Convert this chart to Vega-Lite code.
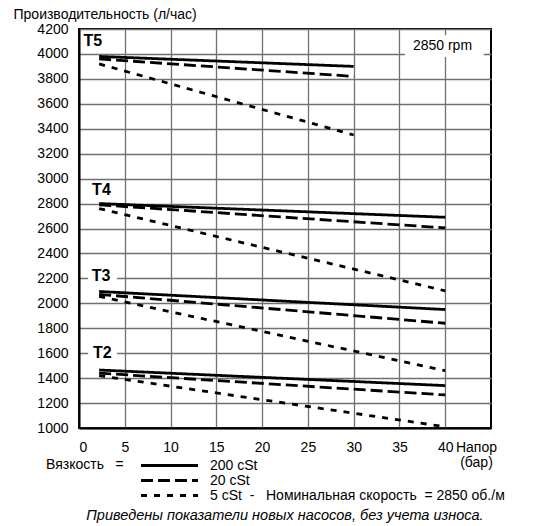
{
  "$schema": "https://vega.github.io/schema/vega-lite/v6.json",
  "width": 412,
  "height": 399,
  "autosize": {"type": "none"},
  "padding": {"left": 79, "top": 29, "right": 44, "bottom": 98},
  "background": "white",
  "config": {
    "font": "Liberation Sans",
    "view": {"stroke": "black", "strokeWidth": 2}
  },
  "title": {
    "text": "Приведены показатели новых насосов, без учета износа.",
    "orient": "bottom",
    "anchor": "middle",
    "fontStyle": "italic",
    "fontWeight": "normal",
    "fontSize": 14.5,
    "color": "black",
    "offset": 6
  },
  "encoding": {
    "x": {
      "field": "x",
      "type": "quantitative",
      "scale": {"domain": [0, 45], "nice": false, "zero": false},
      "axis": {
        "values": [0, 5, 10, 15, 20, 25, 30, 35, 40],
        "title": ["Напор", "(бар)"],
        "titleAngle": 0,
        "titleAlign": "center",
        "titleBaseline": "top",
        "titleX": 397,
        "titleY": 12,
        "titleLineHeight": 15,
        "titleFontWeight": "normal",
        "titleFontSize": 14,
        "titleColor": "black",
        "labelFontSize": 14,
        "labelColor": "black",
        "labelPadding": 12,
        "ticks": false,
        "domainColor": "black",
        "domainWidth": 2,
        "gridColor": "#707070",
        "gridWidth": 1.3
      }
    },
    "y": {
      "field": "y",
      "type": "quantitative",
      "scale": {"domain": [1000, 4200], "nice": false, "zero": false},
      "axis": {
        "values": [1000, 1200, 1400, 1600, 1800, 2000, 2200, 2400, 2600, 2800, 3000, 3200, 3400, 3600, 3800, 4000, 4200],
        "format": "d",
        "title": "Производительность (л/час)",
        "titleAngle": 0,
        "titleAlign": "left",
        "titleBaseline": "middle",
        "titleX": -66,
        "titleY": -15,
        "titleFontWeight": "normal",
        "titleFontSize": 14,
        "titleColor": "black",
        "labelFontSize": 14,
        "labelColor": "black",
        "labelPadding": 11,
        "ticks": false,
        "domainColor": "black",
        "domainWidth": 2,
        "gridColor": "#707070",
        "gridWidth": 1.3
      }
    }
  },
  "layer": [
    {
      "data": {"values": [
        {"x": 1.0, "xe": 4.15, "y": 2163, "ye": 2267},
        {"x": 1.0, "xe": 4.15, "y": 1553, "ye": 1650},
        {"x": 35.6, "xe": 44.2, "y": 3975, "ye": 4150}
      ]},
      "mark": {"type": "rect", "color": "white"},
      "encoding": {
        "x2": {"field": "xe"},
        "y2": {"field": "ye"}
      }
    },
    {
      "data": {"values": [
        {"pump": "T5", "visc": "200 cSt", "x": 2.2, "y": 3980},
        {"pump": "T5", "visc": "200 cSt", "x": 30, "y": 3900},
        {"pump": "T5", "visc": "20 cSt", "x": 2.2, "y": 3960},
        {"pump": "T5", "visc": "20 cSt", "x": 30, "y": 3820},
        {"pump": "T5", "visc": "5 cSt", "x": 2.2, "y": 3920},
        {"pump": "T5", "visc": "5 cSt", "x": 30, "y": 3350},
        {"pump": "T4", "visc": "200 cSt", "x": 2.2, "y": 2800},
        {"pump": "T4", "visc": "200 cSt", "x": 40, "y": 2690},
        {"pump": "T4", "visc": "20 cSt", "x": 2.2, "y": 2790},
        {"pump": "T4", "visc": "20 cSt", "x": 40, "y": 2605},
        {"pump": "T4", "visc": "5 cSt", "x": 2.2, "y": 2760},
        {"pump": "T4", "visc": "5 cSt", "x": 40, "y": 2100},
        {"pump": "T3", "visc": "200 cSt", "x": 2.2, "y": 2095},
        {"pump": "T3", "visc": "200 cSt", "x": 40, "y": 1950},
        {"pump": "T3", "visc": "20 cSt", "x": 2.2, "y": 2072},
        {"pump": "T3", "visc": "20 cSt", "x": 40, "y": 1840},
        {"pump": "T3", "visc": "5 cSt", "x": 2.2, "y": 2055},
        {"pump": "T3", "visc": "5 cSt", "x": 40, "y": 1460},
        {"pump": "T2", "visc": "200 cSt", "x": 2.2, "y": 1465},
        {"pump": "T2", "visc": "200 cSt", "x": 40, "y": 1340},
        {"pump": "T2", "visc": "20 cSt", "x": 2.2, "y": 1440},
        {"pump": "T2", "visc": "20 cSt", "x": 40, "y": 1265},
        {"pump": "T2", "visc": "5 cSt", "x": 2.2, "y": 1420},
        {"pump": "T2", "visc": "5 cSt", "x": 40, "y": 1010}
      ]},
      "mark": {"type": "line", "color": "black", "strokeWidth": 2.8, "strokeCap": "butt"},
      "encoding": {
        "detail": {"field": "pump", "type": "nominal"},
        "strokeDash": {
          "field": "visc",
          "type": "nominal",
          "scale": {"domain": ["200 cSt", "20 cSt", "5 cSt"], "range": [[1, 0], [12, 5], [6, 7]]},
          "legend": {
            "title": "Вязкость\u00a0\u00a0\u00a0=",
            "orient": "none",
            "legendX": -33,
            "legendY": 429,
            "titleOrient": "left",
            "titleAnchor": "start",
            "titleBaseline": "top",
            "titleFontSize": 14,
            "titleFontWeight": "normal",
            "titleColor": "black",
            "titlePadding": 38,
            "symbolType": "M-5,0H5",
            "symbolSize": 130,
            "symbolStrokeWidth": 2.8,
            "symbolStrokeColor": "black",
            "labelFontSize": 14,
            "labelColor": "black",
            "labelOffset": 33,
            "labelLimit": 500,
            "rowPadding": -1,
            "padding": 0,
            "labelExpr": "datum.label == '5 cSt' ? '5 cSt\u00a0\u00a0-\u00a0\u00a0\u00a0Номинальная скорость\u00a0\u00a0= 2850 об./м' : datum.label"
          }
        }
      }
    },
    {
      "data": {"values": [
        {"x": 1.5, "y": 4104, "label": "T5"},
        {"x": 2.45, "y": 2909, "label": "T4"},
        {"x": 2.4, "y": 2219, "label": "T3"},
        {"x": 2.55, "y": 1602, "label": "T2"}
      ]},
      "mark": {"type": "text", "fontSize": 16, "fontWeight": "bold", "align": "center", "baseline": "middle", "color": "black"},
      "encoding": {"text": {"field": "label"}}
    },
    {
      "data": {"values": [{"x": 39.7, "y": 4066, "label": "2850 rpm"}]},
      "mark": {"type": "text", "fontSize": 14, "align": "center", "baseline": "middle", "color": "black"},
      "encoding": {"text": {"field": "label"}}
    }
  ]
}
